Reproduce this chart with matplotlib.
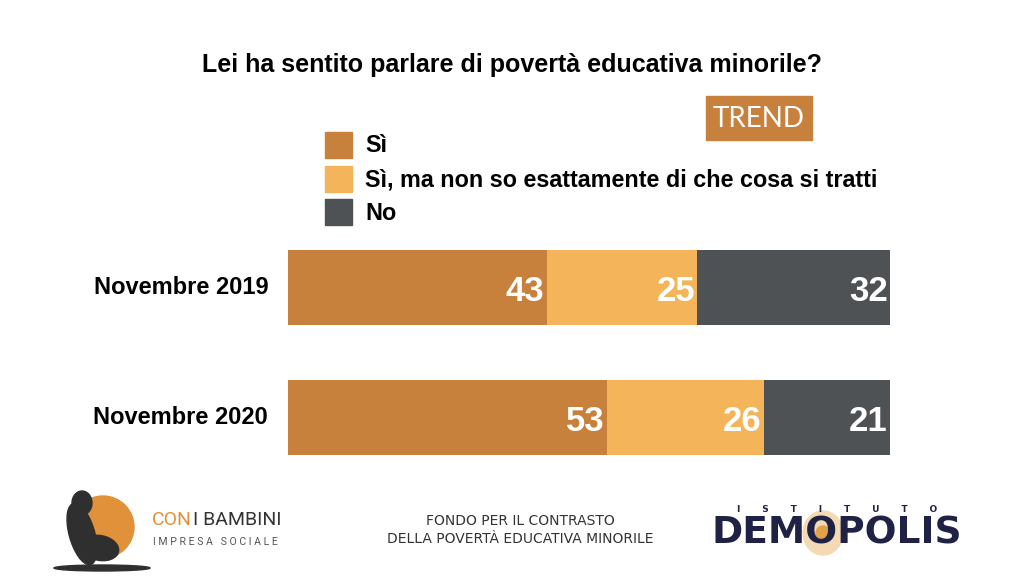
import matplotlib.pyplot as plt
import matplotlib.patches as mpatches

plt.rcParams['font.family'] = ['Liberation Sans', 'DejaVu Sans']

# data
periodi = ['Novembre 2019', 'Novembre 2020']
serie = ['Sì', 'Sì, ma non so esattamente di che cosa si tratti', 'No']
valori_si = [43, 53]
valori_si_ma = [25, 26]
valori_no = [32, 21]
colori = ['#C8803D', '#F4B55A', '#4F5254']

fig = plt.figure(figsize=(10.24, 5.76), dpi=100)
fig.patch.set_facecolor('white')


def px(x, y):
    # pixel coords (top-left origin) -> figure fraction
    return x / 1024, 1 - y / 576


# bar axes
ax = fig.add_axes([288 / 1024, 1 - 455 / 576, 602 / 1024, 205 / 576])
y = [0, 1]
h = 0.577
left = [0, 0]
for vals, col in zip([valori_si, valori_si_ma, valori_no], colori):
    ax.barh(y, vals, left=left, height=h, color=col, edgecolor='none')
    for yi, l, v in zip(y, left, vals):
        ax.text(l + v - 0.4, yi + 0.03, str(v), ha='right', va='center',
                color='white', fontsize=25, fontweight='bold')
    left = [a + b for a, b in zip(left, vals)]
ax.set_xlim(0, 100)
ax.set_ylim(1 + h / 2, -h / 2)
ax.axis('off')
for yi, p in zip(y, periodi):
    ax.text(-3.3, yi, p, ha='right', va='center', fontsize=17, fontweight='bold',
            color='black')

# title
fig.text(*px(512, 65), 'Lei ha sentito parlare di povertà educativa minorile?',
         ha='center', va='center', fontsize=18, fontweight='bold')

# TREND box
fig.patches.append(mpatches.Rectangle(px(706, 140), 106 / 1024, 44 / 576,
                                      transform=fig.transFigure, color='#C8803D'))
fig.text(*px(759, 119), 'TREND', ha='center', va='center', color='white',
         fontsize=20, family='Lato')

# legend
for i, (lab, col) in enumerate(zip(serie, colori)):
    ytop = 132 + i * 33.5
    fig.patches.append(mpatches.Rectangle(px(325, ytop + 26), 27 / 1024, 26 / 576,
                                          transform=fig.transFigure, color=col))
    fig.text(*px(365, ytop + 14), lab, ha='left', va='center',
             fontsize=16.8, fontweight='bold')

# footer: Con i Bambini logo
fig.patches.append(mpatches.Ellipse(px(103, 527), 62 / 1024, 62 / 576,
                                    transform=fig.transFigure, color='#E0913A'))
dark = '#2F2F2F'
fig.patches.append(mpatches.Ellipse(px(82, 534), 26 / 1024, 62 / 576, angle=8,
                                    transform=fig.transFigure, color=dark))
fig.patches.append(mpatches.Ellipse(px(82, 503), 20 / 1024, 24 / 576,
                                    transform=fig.transFigure, color=dark))
fig.patches.append(mpatches.Ellipse(px(100, 548), 36 / 1024, 26 / 576, angle=20,
                                    transform=fig.transFigure, color=dark))
fig.patches.append(mpatches.Ellipse(px(102, 568), 96 / 1024, 6 / 576,
                                    transform=fig.transFigure, color=dark))
fig.text(*px(152, 520), 'CON', ha='left', va='center', color='#E0913A',
         fontsize=14, family='Roboto')
fig.text(*px(193, 520), 'I BAMBINI', ha='left', va='center', color='#333333',
         fontsize=14, family='Roboto')
fig.text(*px(153, 542), 'I M P R E S A   S O C I A L E', ha='left', va='center',
         color='#555555', fontsize=7.6, family='Roboto')

# footer: centre text
fig.text(*px(520, 521), 'FONDO PER IL CONTRASTO', ha='center', va='center',
         fontsize=10, color='#333333', family='DejaVu Sans')
fig.text(*px(520, 539), 'DELLA POVERTÀ EDUCATIVA MINORILE', ha='center',
         va='center', fontsize=10, color='#333333', family='DejaVu Sans')

# footer: Demopolis logo
fig.patches.append(mpatches.Ellipse(px(823, 533), 40 / 1024, 44 / 576,
                                    transform=fig.transFigure, color='#F3DAB5'))
fig.patches.append(mpatches.Ellipse(px(823, 533), 14 / 1024, 14 / 576,
                                    transform=fig.transFigure, color='#E0A14A'))
fig.text(*px(837, 510), 'I       S       T       I       T       U       T       O',
         ha='center', va='center', fontsize=6.5, color='#1F2145', fontweight='bold',
         family='DejaVu Sans')
fig.text(*px(837, 534), 'DEMOPOLIS', ha='center', va='center', fontsize=27,
         color='#1F2145', fontweight='heavy', family='DejaVu Sans')

fig.savefig('out.png', dpi=100, facecolor='white')
